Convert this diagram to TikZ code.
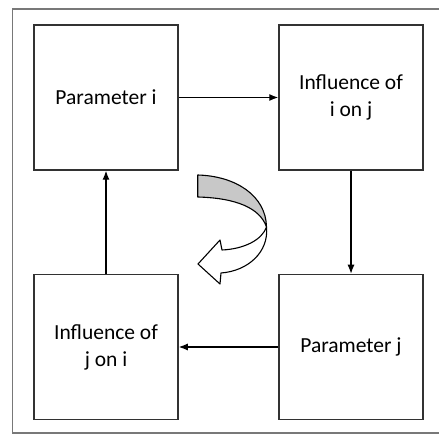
\documentclass[tikz,border=0pt]{standalone}
\usepackage{fontspec}
\setmainfont{Carlito}
\usetikzlibrary{arrows.meta,positioning}
\tikzset{>=latex}
\definecolor{framegray}{RGB}{120,120,120}
\definecolor{boxgray}{RGB}{50,50,50}
\definecolor{bandgray}{RGB}{200,200,200}

\begin{document}
\begin{tikzpicture}[x=1pt,y=-1pt,every node/.style={font=\fontsize{21.5}{27}\selectfont}]
    \tikzset{
        box/.style={draw=boxgray, line width=1.5pt, minimum width=144pt, minimum height=145pt, inner sep=0pt, align=center},
        link/.style={-{Latex[length=9pt,width=7pt]}, line width=1.2pt, black},
    }
    \useasboundingbox (0,0) rectangle (439,435);
    \draw[framegray, line width=1.2pt] (12.5,9) rectangle (450,433);

    \node[box] (pari) at (106,97.5) {Parameter i};
    \node[box] (infij) at (351,97.5) {Influence of\\i on j};
    \node[box] (parj) at (351,347) {Parameter j};
    \node[box] (infji) at (106,347) {Influence of\\j on i};

    \draw[link] (pari) -- (infij);
    \draw[link] (infij) -- (parj);
    \draw[link] (parj) -- (infji);
    \draw[link] (infji) -- (pari);

    % turning arrow in the middle
    \filldraw[fill=bandgray, draw=black, line width=1.1pt, line join=round]
        (197.7,175) .. controls (236,176) and (266,196) .. (266.5,227)
        .. controls (260,208) and (236,198) .. (197.7,197) -- cycle;
    \filldraw[fill=white, draw=black, line width=1.1pt, line join=round]
        (266.5,227) .. controls (269,252) and (248,271) .. (221,273)
        -- (220,284) -- (198,264) -- (220,240) -- (222,250)
        .. controls (244,249) and (262,240) .. (266.5,227) -- cycle;
\end{tikzpicture}
\end{document}
